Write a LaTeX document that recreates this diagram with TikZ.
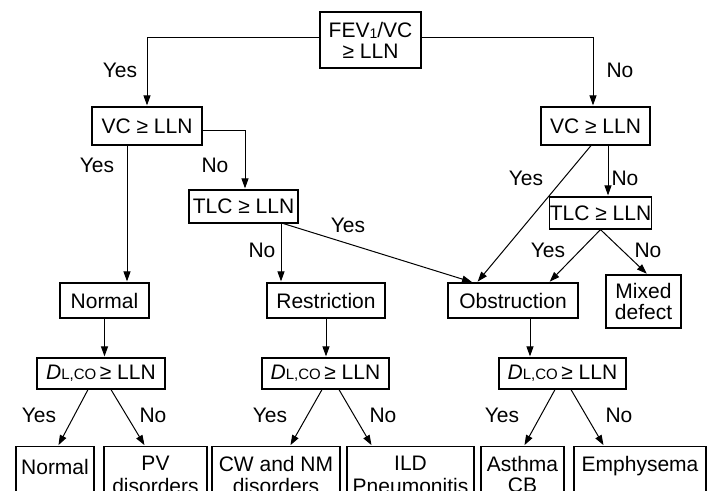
\documentclass[tikz,border=0pt]{standalone}
\usepackage{fontspec}
\setmainfont{Liberation Sans}
\usetikzlibrary{arrows.meta}
\newcommand\dlcotext{{\itshape D}{\fontsize{15}{15}\selectfont L,CO}\,≥ LLN}
\begin{document}
\begin{tikzpicture}[x=1pt,y=-1pt,
  every node/.style={font=\fontsize{21}{21}\selectfont},
  box/.style={draw, line width=1.2pt, inner sep=0pt, align=center},
  bbox/.style={draw, line width=1.2pt, anchor=north, inner xsep=0pt, inner ysep=9.5pt, align=center},
  conn/.style={line width=1pt, -{Triangle[length=10pt,width=7pt]}, shorten >=1pt},
  lbl/.style={inner sep=0pt}
]
\useasboundingbox (0,0) rectangle (712,490);
\clip (0,0) rectangle (712,490);
\fill[white] (0,0) rectangle (712,490);

% boxes
\node[box, minimum width=101pt, minimum height=56pt] (fev) at (370.5,40) {FEV\raisebox{-1.5pt}{\fontsize{14}{14}\selectfont 1}/VC\\ ≥ LLN};
\node[box, minimum width=110pt, minimum height=38pt] (vcL) at (147,126) {VC ≥ LLN};
\node[box, minimum width=109pt, minimum height=38pt] (vcR) at (595.5,126) {VC ≥ LLN};
\node[box, minimum width=109pt, minimum height=33pt] (tlcL) at (243.5,206.5) {TLC ≥ LLN};
\node[box, minimum width=99pt, minimum height=32pt] (tlcR) at (600.5,213) {TLC ≥ LLN};
\node[box, minimum width=89pt, minimum height=35pt] (normal) at (104.5,300.5) {Normal};
\node[box, minimum width=118pt, minimum height=35pt] (restr) at (326,300.5) {Restriction};
\node[box, minimum width=130pt, minimum height=35pt] (obstr) at (513,300.5) {Obstruction};
\node[box, minimum width=75pt, minimum height=53pt] (mixed) at (643.5,301.5) {Mixed\\defect};
\node[box, minimum width=128pt, minimum height=31pt] (dlcoL) at (101,373.5) {\dlcotext};
\node[box, minimum width=127pt, minimum height=31pt] (dlcoM) at (325.5,373.5) {\dlcotext};
\node[box, minimum width=127pt, minimum height=31pt] (dlcoR) at (562.5,373.5) {\dlcotext};

\node[bbox, minimum width=78pt, inner ysep=12.5pt] (bN) at (55,446) {\strut Normal\\\strut};
\node[bbox, minimum width=103pt] (bPV) at (155.5,446) {\strut PV\\\strut disorders};
\node[bbox, minimum width=128pt] (bCW) at (276,446) {\strut CW and NM\\\strut disorders};
\node[bbox, minimum width=127pt] (bILD) at (410.5,446) {\strut ILD\\\strut Pneumonitis};
\node[bbox, minimum width=83pt] (bAst) at (522.5,446) {\strut Asthma\\\strut CB};
\node[bbox, minimum width=132pt] (bEmp) at (640,446) {\strut Emphysema\\\strut};

% connectors
\draw[conn] ([yshift=3pt]fev.west) -| (vcL.north);
\draw[conn] ([yshift=3pt]fev.east) -| ([xshift=-2.5pt]vcR.north);
\draw[conn] ([yshift=-4pt]vcL.east) -| ([xshift=1.5pt]tlcL.north);
\draw[conn] ([xshift=-20pt]vcL.south) -- ([xshift=22.5pt]normal.north);
\draw[conn] ([xshift=37.5pt]tlcL.south) -- ([xshift=-45pt]restr.north);
\draw[conn] ([xshift=40pt]tlcL.south) -- ([xshift=-40pt]obstr.north);
\draw[conn] ([xshift=-4.5pt]vcR.south) -- ([xshift=-36pt]obstr.north);
\draw[conn] ([xshift=12.5pt]vcR.south) -- ([xshift=7.5pt]tlcR.north);
\draw[conn] (tlcR.south) -- ([xshift=36pt]obstr.north);
\draw[conn] (tlcR.south) -- ([xshift=4pt]mixed.north);
\draw[conn] (normal.south) -- ([xshift=3.5pt]dlcoL.north);
\draw[conn] (restr.south) -- ([xshift=0.5pt]dlcoM.north);
\draw[conn] ([xshift=17pt]obstr.south) -- ([xshift=-32.5pt]dlcoR.north);

\draw[conn] ([xshift=-13pt]dlcoL.south) -- ([xshift=3pt]bN.north);
\draw[conn] ([xshift=10pt]dlcoL.south) -- ([xshift=-10.5pt]bPV.north);
\draw[conn] ([xshift=-3.5pt]dlcoM.south) -- ([xshift=14pt]bCW.north);
\draw[conn] ([xshift=13.5pt]dlcoM.south) -- ([xshift=-38.5pt]bILD.north);
\draw[conn] ([xshift=-7.5pt]dlcoR.south) -- ([xshift=1.5pt]bAst.north);
\draw[conn] ([xshift=8.5pt]dlcoR.south) -- ([xshift=-36pt]bEmp.north);

% labels
\node[lbl] (l1) at (120,70) {Yes};
\node[lbl] (l2) at (620,70) {No};
\node[lbl] (l3) at (97,165) {Yes};
\node[lbl] (l4) at (215,165) {No};
\node[lbl] (l5) at (526,178) {Yes};
\node[lbl] (l6) at (625,178) {No};
\node[lbl] (l7) at (348,225) {Yes};
\node[lbl] (l8) at (262,250) {No};
\node[lbl] (l9) at (548,250) {Yes};
\node[lbl] (l10) at (648,250) {No};
\node[lbl] (l11) at (39,415) {Yes};
\node[lbl] (l12) at (153,415) {No};
\node[lbl] (l13) at (270,415) {Yes};
\node[lbl] (l14) at (383,415) {No};
\node[lbl] (l15) at (502,415) {Yes};
\node[lbl] (l16) at (619,415) {No};
\end{tikzpicture}
\end{document}
